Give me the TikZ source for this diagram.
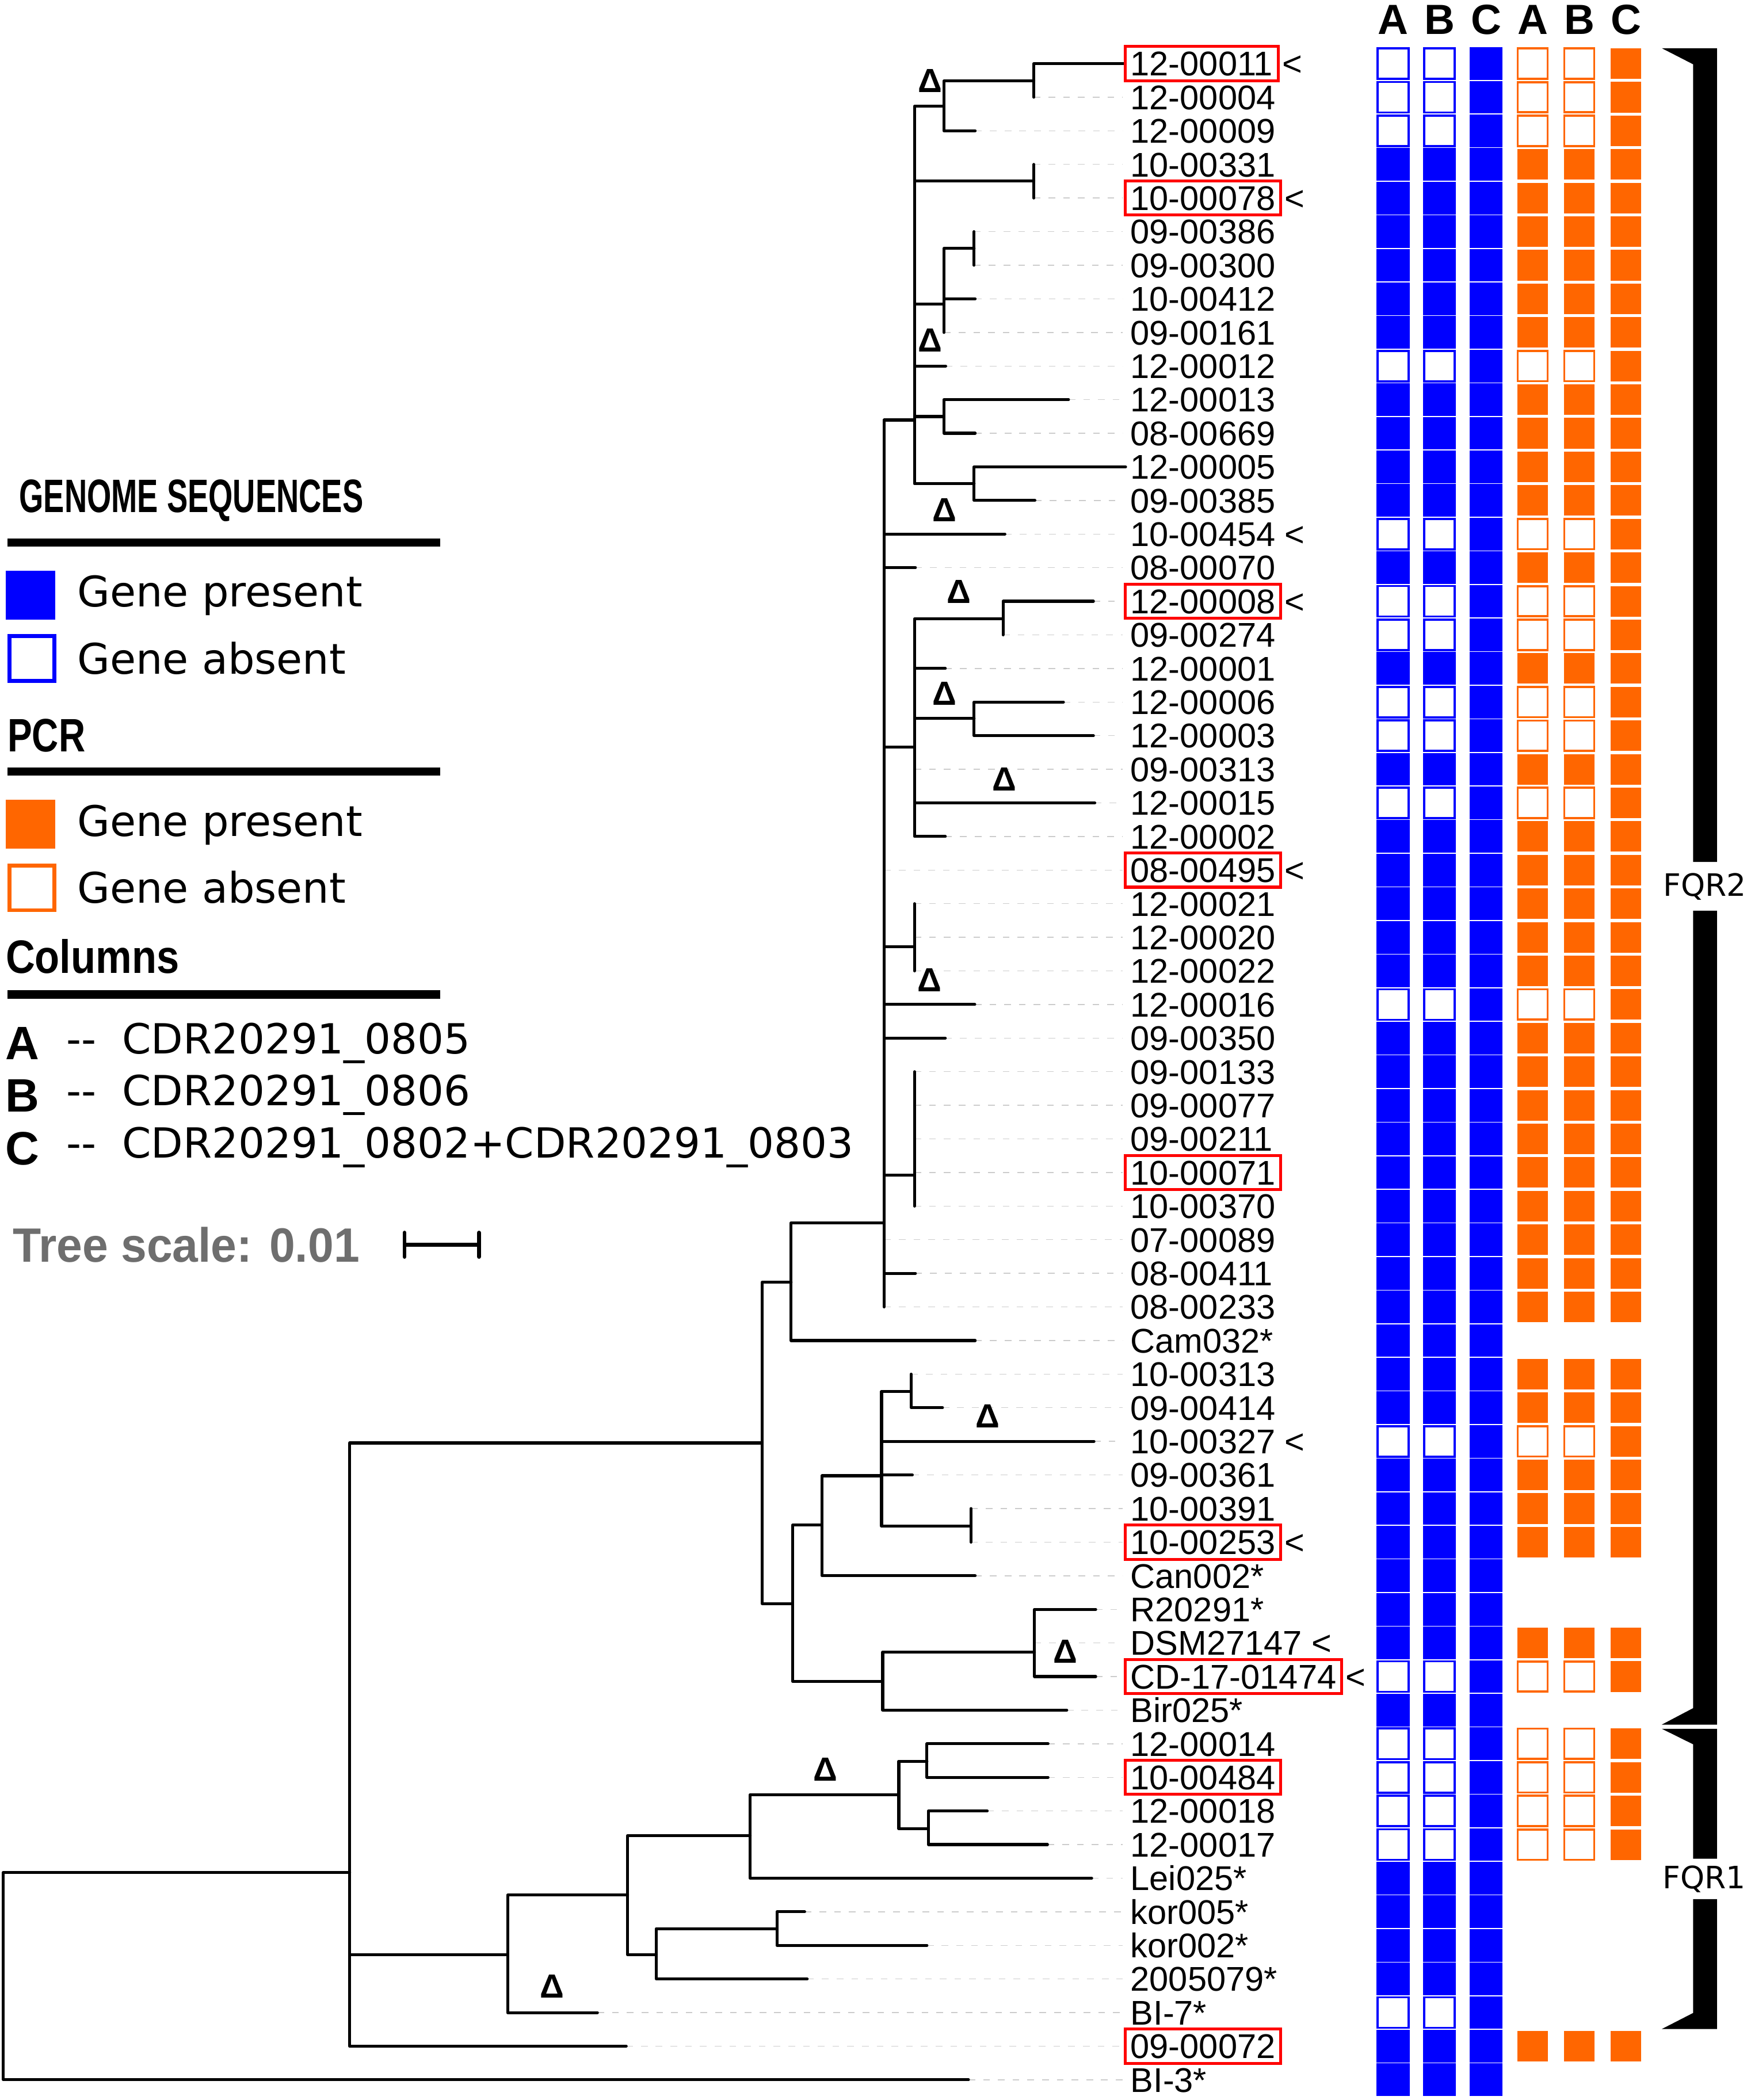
\documentclass[tikz,border=0pt]{standalone}
\usepackage{fontspec}
\usepackage{graphicx}
\newfontfamily\djv{DejaVu Sans}
\newfontfamily\lib{Liberation Sans}
\definecolor{pblue}{HTML}{0000FF}
\definecolor{porange}{HTML}{FF6600}
\definecolor{pred}{HTML}{FF0000}
\definecolor{tsgray}{HTML}{6E6E6E}
\begin{document}
\begin{tikzpicture}[x=1pt,y=-1pt,
  br/.style={line width=2.2pt, line cap=round, line join=round},
  lead/.style={draw=black!20, line width=0.6pt, dash pattern=on 5pt off 6pt},
  lab/.style={font={\lib\fontsize{25.6}{30}\selectfont}, anchor=west, inner xsep=4pt, inner ysep=0pt, outer sep=0pt, text height=21.9pt, text depth=3.6pt},
  mk/.style={lab, inner xsep=0pt},
  redbox/.style={draw=pred, line width=2.2pt},
  delta/.style={font={\lib\bfseries\fontsize{25}{30}\selectfont}, inner sep=0pt},
  bfull/.style={fill=pblue, minimum width=24.6pt, minimum height=24.4pt, inner sep=0pt, outer sep=0pt},
  bempty/.style={draw=pblue, fill=white, line width=1.6pt, minimum width=23pt, minimum height=22.8pt, inner sep=0pt, outer sep=0pt},
  ofull/.style={fill=porange, minimum width=22.7pt, minimum height=22.8pt, inner sep=0pt, outer sep=0pt},
  oempty/.style={draw=porange, fill=white, line width=1.6pt, minimum width=22.4pt, minimum height=22.6pt, inner sep=0pt, outer sep=0pt},
  hdr/.style={anchor=base, inner sep=0pt, font={\lib\bfseries\fontsize{31.5}{36}\selectfont}},
  ttl/.style={anchor=base west, inner sep=0pt, font={\lib\bfseries\fontsize{35}{40}\selectfont}},
  leg/.style={anchor=base west, inner sep=0pt, font={\djv\fontsize{31.5}{36}\selectfont}},
  colt/.style={anchor=base west, inner sep=0pt, font={\djv\fontsize{31}{36}\selectfont}},
  fqr/.style={anchor=base, inner sep=0pt, font={\djv\fontsize{23}{28}\selectfont}}
]
\useasboundingbox (0,0) rectangle (1304,1568);
\fill[white] (0,0) rectangle (1304,1568);

% ---------- internal nodes of the tree ----------
\coordinate (nR0) at (2.5,1475);
\coordinate (nA) at (261,1398);
\coordinate (nB) at (569,1077.4);
\coordinate (nC) at (379,1459.5);
\coordinate (nD) at (468.5,1415);
\coordinate (nE) at (490,1459.5);
\coordinate (nF) at (560,1370.6);
\coordinate (nG) at (580,1440);
\coordinate (nH) at (671,1340);
\coordinate (nI) at (692,1315);
\coordinate (nJ) at (693,1365.5);
\coordinate (nN) at (590.6,957.4);
\coordinate (nR) at (591.7,1197.3);
\coordinate (nK) at (660,913.1);
\coordinate (nKb) at (682.7,313.6);
\coordinate (nU) at (704.7,79.3);
\coordinate (nZ) at (771.8,60.5);
\coordinate (nV) at (771.8,135.2);
\coordinate (nW) at (704.7,227.2);
\coordinate (nWa) at (727.2,185.5);
\coordinate (nX) at (704.7,311);
\coordinate (nY) at (727.2,361.2);
\coordinate (nM) at (682.7,557.8);
\coordinate (nMa) at (748.8,462);
\coordinate (nMb) at (727.2,536.4);
\coordinate (nKc) at (682.7,707);
\coordinate (nKd) at (682.7,877.5);
\coordinate (nP) at (613.6,1138.8);
\coordinate (nQ) at (658.1,1101.9);
\coordinate (nQa) at (680.2,1038.9);
\coordinate (nQb) at (724.9,1139.6);
\coordinate (nS) at (659,1255.3);
\coordinate (nT) at (772.3,1233.4);

\foreach \a/\b in {R0/A,A/B,A/C,C/D,D/F,D/E,E/G,F/H,H/I,H/J,B/N,B/R,N/K,K/Kb,Kb/U,U/Z,Kb/V,Kb/W,W/Wa,Kb/X,Kb/Y,K/M,M/Ma,M/Mb,K/Kc,K/Kd,R/P,P/Q,Q/Qa,Q/Qb,R/S,S/T}
  \draw[br] (n\a) |- (n\b);

% ---------- leaves ----------
\foreach \i/\tx/\pp/\lab in {
0/840/Z/12-00011, 1/771.8/Z/12-00004, 2/728/U/12-00009, 3/771.8/V/10-00331,
4/771.8/V/10-00078, 5/727.2/Wa/09-00386, 6/727.2/Wa/09-00300, 7/728/W/10-00412,
8/704.7/W/09-00161, 9/706/Kb/12-00012, 10/797.7/X/12-00013, 11/728/X/08-00669,
12/840.3/Y/12-00005, 13/772.6/Y/09-00385, 14/750.2/K/10-00454, 15/683.4/K/08-00070,
16/816.3/Ma/12-00008, 17/748.8/Ma/09-00274, 18/705.7/M/12-00001, 19/793.9/Mb/12-00006,
20/816.3/Mb/12-00003, 21/682.7/M/09-00313, 22/817.3/M/12-00015, 23/705.7/M/12-00002,
24/660/K/08-00495, 25/682.7/Kc/12-00021, 26/682.7/Kc/12-00020, 27/682.7/Kc/12-00022,
28/727.7/K/12-00016, 29/705.7/K/09-00350, 30/682.7/Kd/09-00133, 31/682.7/Kd/09-00077,
32/682.7/Kd/09-00211, 33/682.7/Kd/10-00071, 34/682.7/Kd/10-00370, 35/660/K/07-00089,
36/683.4/K/08-00411, 37/660/K/08-00233, 38/728/N/Cam032*, 39/680.2/Qa/10-00313,
40/703.6/Qa/09-00414, 41/816.7/Q/10-00327, 42/681.1/Q/09-00361, 43/724.9/Qb/10-00391,
44/724.9/Qb/10-00253, 45/728/P/Can002*, 46/818/T/R20291*, 47/772.3/T/DSM27147,
48/818/T/CD-17-01474, 49/796.4/S/Bir025*, 50/782.4/I/12-00014, 51/782.4/I/10-00484,
52/737/J/12-00018, 53/782/J/12-00017, 54/815/F/Lei025*, 55/600.7/G/kor005*,
56/692/G/kor002*, 57/602.6/E/2005079*, 58/446/C/BI-7*, 59/467.5/A/09-00072,
60/723/R0/BI-3*}{
  \pgfmathsetmacro\yy{47.5+25.09*\i}
  \coordinate (t\i) at (\tx,\yy);
  \ifdim\tx pt<836pt\relax
    \draw[lead] (t\i) -- (838,\yy);
  \fi
  \draw[br] (n\pp) |- (t\i);
  \node[lab] (l\i) at (840,\yy) {\lab};
}

% red boxes and arrows
\foreach \i in {0,4,16,24,33,44,48,51,59}
  \draw[redbox] (l\i.south west) rectangle (l\i.north east);
\foreach \i in {0,4,14,16,24,41,44,47,48}
  \node[mk] (m\i) at ([xshift=3pt]l\i.east) {<};

% deltas
\foreach \j/\dx/\dy in {1/694.5/60.5, 2/694.5/254, 3/705/381, 4/716/442, 5/705/518, 6/750/582,
  7/694/732, 8/737.5/1057.6, 9/795.5/1233, 10/616/1321, 11/412/1483}
  \node[delta] (d\j) at (\dx,\dy) {Δ};

% ---------- heat map ----------
\foreach \h/\hx/\hl in {A1/1040/A, B1/1074.6/B, C1/1109.5/C, A2/1144.2/A, B2/1179/B, C2/1213.8/C}
  \node[hdr] (h\h) at (\hx,25.5) {\hl};
\foreach \i/\c in {0/1,1/1,2/1,3/0,4/0,5/0,6/0,7/0,8/0,9/1,10/0,11/0,12/0,13/0,14/1,15/0,
  16/1,17/1,18/0,19/1,20/1,21/0,22/1,23/0,24/0,25/0,26/0,27/0,28/1,29/0,30/0,31/0,32/0,
  33/0,34/0,35/0,36/0,37/0,38/2,39/0,40/0,41/1,42/0,43/0,44/0,45/2,46/2,47/0,48/1,49/2,
  50/1,51/1,52/1,53/1,54/2,55/2,56/2,57/2,58/3,59/0,60/2}{
  \pgfmathsetmacro\yy{47.5+25.09*\i}
  \ifodd\c\relax
    \node[bempty] (ba\i) at (1040,\yy) {};
    \node[bempty] (bb\i) at (1074.6,\yy) {};
  \else
    \node[bfull] (ba\i) at (1040,\yy) {};
    \node[bfull] (bb\i) at (1074.6,\yy) {};
  \fi
  \node[bfull] (bc\i) at (1109.5,\yy) {};
  \ifnum\c=0\relax
    \node[ofull] (oa\i) at (1144.2,\yy) {};
    \node[ofull] (ob\i) at (1179,\yy) {};
    \node[ofull] (oc\i) at (1213.8,\yy) {};
  \fi
  \ifnum\c=1\relax
    \node[oempty] (oa\i) at (1144.2,\yy) {};
    \node[oempty] (ob\i) at (1179,\yy) {};
    \node[ofull] (oc\i) at (1213.8,\yy) {};
  \fi
}

% ---------- brackets ----------
\fill (1240.6,36) -- (1281.8,36) -- (1281.8,643.6) -- (1264,643.6) -- (1264,48) -- cycle;
\fill (1264,680) -- (1281.8,680) -- (1281.8,1287.7) -- (1240.6,1287.7) -- (1264,1275.4) -- cycle;
\node[fqr] (fqr2) at (1272.8,669) {FQR2};
\fill (1240.6,1290.8) -- (1281.8,1290.8) -- (1281.8,1387.8) -- (1264,1387.8) -- (1264,1302.4) -- cycle;
\fill (1264,1418) -- (1281.8,1418) -- (1281.8,1515) -- (1240.6,1515) -- (1264,1503) -- cycle;
\node[fqr] (fqr1) at (1272.3,1410) {FQR1};

% ---------- legend ----------
\node[ttl] (tGS) at (14.2,382.6) {\scalebox{0.667}[1]{GENOME SEQUENCES}};
\fill (5.5,402.3) rectangle (328.5,408.3);
\fill[pblue] (4.4,426) rectangle (41.2,462.7);
\draw[pblue, line width=3pt] (7,475.1) rectangle (40.8,508.6);
\node[leg] (gp1) at (57.5,453.2) {Gene present};
\node[leg] (ga1) at (57.5,503.3) {Gene absent};

\node[ttl] (tPCR) at (5.5,561.2) {\scalebox{0.785}[1]{PCR}};
\fill (5.5,573) rectangle (328.5,579);
\fill[porange] (4.4,597) rectangle (41.2,633.7);
\draw[porange, line width=3pt] (7,646.1) rectangle (40.8,679.6);
\node[leg] (gp2) at (57.5,624.2) {Gene present};
\node[leg] (ga2) at (57.5,674.3) {Gene absent};

\node[ttl] (tCol) at (4.1,726.6) {\scalebox{0.865}[1]{Columns}};
\fill (5.5,739.5) rectangle (328.5,745.8);
\node[ttl] (cA) at (3.8,790.9) {A};
\node[ttl] (cB) at (3.8,830.2) {B};
\node[ttl] (cC) at (3.8,869.5) {C};
\node[colt] (dA) at (49.5,786.7) {{-}{-}};
\node[colt] (dB) at (49.5,825.4) {{-}{-}};
\node[colt] (dC) at (49.5,864.7) {{-}{-}};
\node[colt] (gA) at (91,786.7) {CDR20291\_0805};
\node[colt] (gB) at (91,825.4) {CDR20291\_0806};
\node[colt] (gC) at (91,864.7) {CDR20291\_0802+CDR20291\_0803};

\node[anchor=base west, inner sep=0pt, text=tsgray, font={\lib\bfseries\fontsize{36}{40}\selectfont}] (tTS) at (9.5,942.4) {\scalebox{0.96}[1]{Tree scale: 0.01}};
\coordinate (sb1) at (302,929.4);
\coordinate (sb2) at (357.6,929.4);
\draw[line width=3pt] (sb1) -- (sb2);
\draw[line width=3pt, line cap=round] ([yshift=9pt]sb1) -- ([yshift=-9pt]sb1);
\draw[line width=3pt, line cap=round] ([yshift=9pt]sb2) -- ([yshift=-9pt]sb2);
\end{tikzpicture}
\end{document}
